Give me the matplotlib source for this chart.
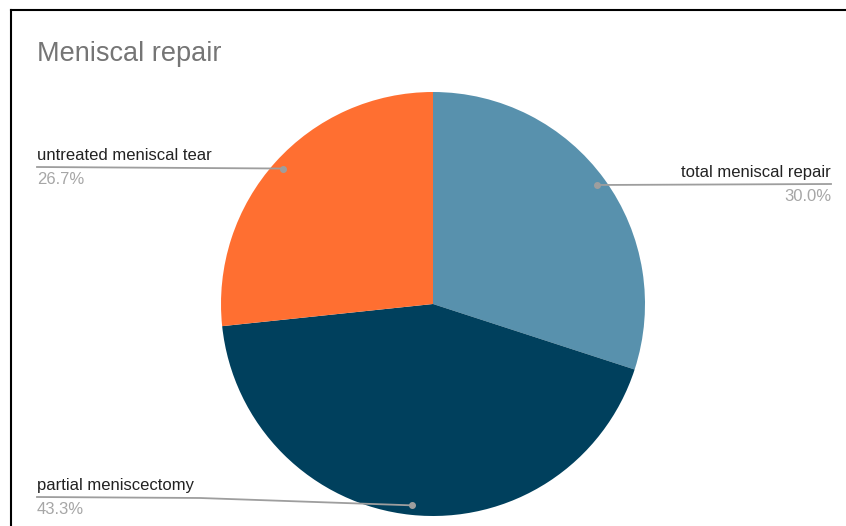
import numpy as np
import matplotlib.pyplot as plt

labels = ["total meniscal repair", "partial meniscectomy", "untreated meniscal tear"]
counts = [9, 13, 8]
colors = ["#5891ad", "#00405d", "#ff6f31"]

W, H = 846, 526
plt.rcParams['font.family'] = ['Liberation Sans', 'DejaVu Sans']

fig = plt.figure(figsize=(W / 100, H / 100), dpi=100)
ax = fig.add_axes([0, 0, 1, 1])

cx, cy, r = 433, H - 304, 212
wedges, _ = ax.pie(counts, colors=colors, startangle=90, counterclock=False,
                   center=(cx, cy), radius=r, frame=True,
                   wedgeprops=dict(linewidth=0))
ax.set_xlim(0, W)
ax.set_ylim(0, H)
ax.set_aspect('equal')
ax.axis('off')

total = sum(counts)
pct = [f"{100 * c / total:.1f}%" for c in counts]

# label rows: (text x, line y, align)
rows = {
    0: (831, H - 184, 'right'),
    1: (37, H - 497, 'left'),
    2: (37, H - 167, 'left'),
}
lc = "#9e9e9e"
for i, w in enumerate(wedges):
    ang = np.deg2rad((w.theta1 + w.theta2) / 2)
    px = cx + 0.955 * r * np.cos(ang)
    py = cy + 0.955 * r * np.sin(ang)
    tx, ty, ha = rows[i]
    if i == 1:
        ax.plot([tx, 200, px], [ty, ty - 1, py], color=lc, lw=1.3, zorder=3)
    else:
        ax.plot([tx, px], [ty, py], color=lc, lw=1.3, zorder=3)
    ax.plot(px, py, 'o', color=lc, ms=4, zorder=4)
    ax.text(tx, ty + 4, labels[i], ha=ha, va='bottom', fontsize=12, color="#222222")
    ax.text(tx, ty - 5, pct[i], ha=ha, va='top', fontsize=12, color="#a6a6a6")

ax.text(37, H - 54, "Meniscal repair", fontsize=19.5, color="#757575", va='center')

# frame lines (top and left)
ax.plot([11, W], [H - 10, H - 10], color='black', lw=1.5, clip_on=False)
ax.plot([11, 11], [H - 10, 0], color='black', lw=1.5, clip_on=False)

fig.savefig("out.png", dpi=100)
